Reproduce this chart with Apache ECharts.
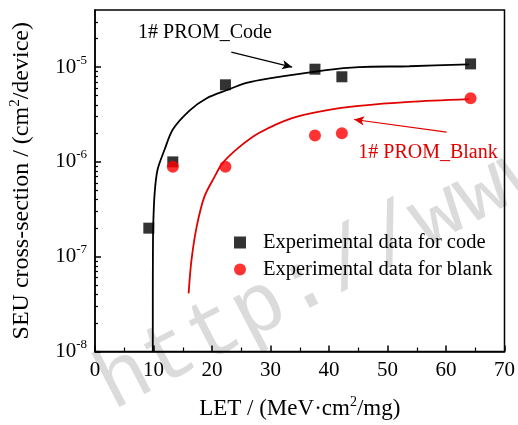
<!DOCTYPE html>
<html lang="en">
<head>
    <meta charset="UTF-8">
    <title>SEU cross-section</title>
    <style>
        * {
            margin: 0px;
            padding: 0px;
        }

        #main {
            width: 518px;
            height: 425px;
            background-color: #ffffff
        }
    </style>
</head>
<body>
<div id="main"></div>
<script src="https://cdn.jsdelivr.net/npm/echarts@6/dist/echarts.min.js"></script>
<script type="text/javascript">
    // experimental points
    var codeLet = [9.2, 13.3, 22.3, 37.6, 42.2, 64.2];
    var codeSigma = [2.0e-7, 1.0e-6, 6.5e-6, 9.5e-6, 7.9e-6, 1.08e-5];
    var blankLet = [13.3, 22.3, 37.6, 42.2, 64.2];
    var blankSigma = [8.9e-7, 8.9e-7, 1.9e-6, 2.0e-6, 4.7e-6];

    // fit curves
    var codeFitLet = [9.88, 9.88, 9.9, 9.95, 10.2, 10.7, 11.9, 13.3, 16.2, 19.1, 22.5, 25.9, 29.8, 39.5, 45.1, 53.7, 63.9];
    var codeFitSigma = [1e-8, 3.5e-8, 1e-7, 2.1e-7, 4.7e-7, 8.3e-7, 1.35e-6, 2.2e-6, 3.5e-6, 4.7e-6, 5.7e-6, 6.8e-6, 7.6e-6, 9.3e-6, 1.0e-5, 1.02e-5, 1.07e-5];
    var blankFitLet = [16.0, 16.5, 17.4, 18.7, 20.4, 21.8, 24.7, 28.1, 33.7, 39.5, 45.1, 53.7, 63.9];
    var blankFitSigma = [4.1e-8, 9.3e-8, 2.1e-7, 4.3e-7, 6.9e-7, 9.7e-7, 1.44e-6, 2.03e-6, 2.9e-6, 3.5e-6, 3.9e-6, 4.3e-6, 4.6e-6];

    var yMin = 1e-8;
    var yMax = 4e-5;
    var majorTicks = [1e-8, 1e-7, 1e-6, 1e-5];

    function lg(v) {
        return Math.log10(v);
    }

    function pairs(xs, ys) {
        var out = [];
        for (var i = 0; i < xs.length; i++) {
            out.push([xs[i], lg(ys[i])]);
        }
        return out;
    }

    var minorTicks = [];
    for (var e = -8; e <= -5; e++) {
        for (var k = 2; k <= 9; k++) {
            var v = k * Math.pow(10, e);
            if (v < yMax) minorTicks.push(lg(v));
        }
    }

    var fontName = 'Liberation Serif';
    var myChart = echarts.init(document.getElementById('main'));

    myChart.setOption({
        animation: false,
        textStyle: {fontFamily: fontName, color: '#000'},
        grid: {
            left: 95, right: 10, top: 10, bottom: 73,
            show: true, borderColor: '#000', borderWidth: 1.5
        },
        legend: {
            orient: 'vertical',
            left: 229,
            top: 227,
            itemWidth: 12,
            itemHeight: 12,
            itemGap: 6,
            textStyle: {fontFamily: fontName, fontSize: 20.5, color: '#000', padding: [0, 0, 0, 12]},
            data: [
                {name: 'Experimental data for code', icon: 'rect'},
                {name: 'Experimental data for blank', icon: 'circle'}
            ]
        },
        xAxis: {
            type: 'value',
            min: 0,
            max: 70,
            interval: 10,
            name: 'LET / (MeV·cm{s|2}/mg)',
            nameLocation: 'middle',
            nameGap: 44,
            nameTextStyle: {
                fontFamily: fontName, fontSize: 23, color: '#000',
                rich: {s: {fontSize: 14, fontFamily: fontName, padding: [0, 0, 12, 0]}}
            },
            axisLine: {lineStyle: {color: '#000', width: 1.5}},
            axisTick: {inside: true, length: 6, lineStyle: {color: '#000', width: 1.5}},
            minorTick: {show: true, splitNumber: 2, length: 4, lineStyle: {color: '#000', width: 1.2}},
            axisLabel: {fontFamily: fontName, fontSize: 21, color: '#000', margin: 8},
            splitLine: {show: false}
        },
        yAxis: [{
            type: 'value',
            min: lg(yMin),
            max: lg(yMax),
            name: 'SEU cross-section / (cm{s|2}/device)',
            nameLocation: 'middle',
            nameGap: 60,
            nameTextStyle: {
                fontFamily: fontName, fontSize: 24, color: '#000',
                rich: {s: {fontSize: 15, fontFamily: fontName, padding: [0, 0, 12, 0]}}
            },
            axisLine: {lineStyle: {color: '#000', width: 1.5}},
            axisTick: {
                inside: true, length: 6, lineStyle: {color: '#000', width: 1.5},
                customValues: majorTicks.map(lg)
            },
            axisLabel: {
                customValues: majorTicks.map(lg),
                margin: 8,
                formatter: function (val) {
                    return '{b|10}{s|' + Math.round(val) + '}';
                },
                rich: {
                    b: {fontFamily: fontName, fontSize: 21, color: '#000'},
                    s: {fontFamily: fontName, fontSize: 13, color: '#000', padding: [0, 0, 14, 0]}
                }
            },
            splitLine: {show: false}
        }, {
            type: 'value',
            min: lg(yMin),
            max: lg(yMax),
            position: 'left',
            axisLine: {show: false},
            axisLabel: {show: false},
            axisTick: {
                inside: true, length: 3, lineStyle: {color: '#000', width: 1.2},
                customValues: minorTicks
            },
            splitLine: {show: false}
        }],
        graphic: [{
            type: 'text',
            z: -10,
            x: 122, y: 428,
            rotation: 0.48,
            style: {
                text: 'http://www',
                font: '84px "Liberation Mono"',
                fill: 'rgba(175,175,175,0.45)',
                textVerticalAlign: 'bottom'
            }
        }, {
            type: 'text',
            x: 205, y: 33,
            style: {
                text: '1# PROM_Code',
                font: '20px "Liberation Serif"',
                fill: '#000',
                textAlign: 'center',
                textVerticalAlign: 'middle'
            }
        }, {
            type: 'text',
            x: 428, y: 153,
            style: {
                text: '1# PROM_Blank',
                font: '20px "Liberation Serif"',
                fill: '#e00000',
                textAlign: 'center',
                textVerticalAlign: 'middle'
            }
        }],
        series: [{
            name: 'code fit',
            type: 'line',
            showSymbol: false,
            smooth: 0.3,
            data: pairs(codeFitLet, codeFitSigma),
            lineStyle: {color: '#000', width: 1.8},
            markLine: {
                silent: true,
                symbol: ['none', 'arrow'],
                symbolSize: [7, 10],
                label: {show: false},
                lineStyle: {color: '#000', width: 1.2, type: 'solid'},
                data: [[{coord: [23.3, lg(1.44e-5)]}, {coord: [33.7, lg(1.0e-5)]}]]
            }
        }, {
            name: 'blank fit',
            type: 'line',
            showSymbol: false,
            smooth: 0.3,
            data: pairs(blankFitLet, blankFitSigma),
            lineStyle: {color: '#e00000', width: 1.8},
            markLine: {
                silent: true,
                symbol: ['none', 'arrow'],
                symbolSize: [7, 10],
                label: {show: false},
                lineStyle: {color: '#e00000', width: 1.2, type: 'solid'},
                data: [[{coord: [60.1, lg(2.06e-6)]}, {coord: [44.3, lg(2.8e-6)]}]]
            }
        }, {
            name: 'Experimental data for code',
            type: 'scatter',
            symbol: 'rect',
            symbolSize: 11,
            itemStyle: {color: '#000'},
            data: pairs(codeLet, codeSigma),
            z: 3
        }, {
            name: 'Experimental data for blank',
            type: 'scatter',
            symbol: 'circle',
            symbolSize: 12,
            itemStyle: {color: '#ff0000'},
            data: pairs(blankLet, blankSigma),
            z: 3
        }]
    });
</script>
</body>
</html>
